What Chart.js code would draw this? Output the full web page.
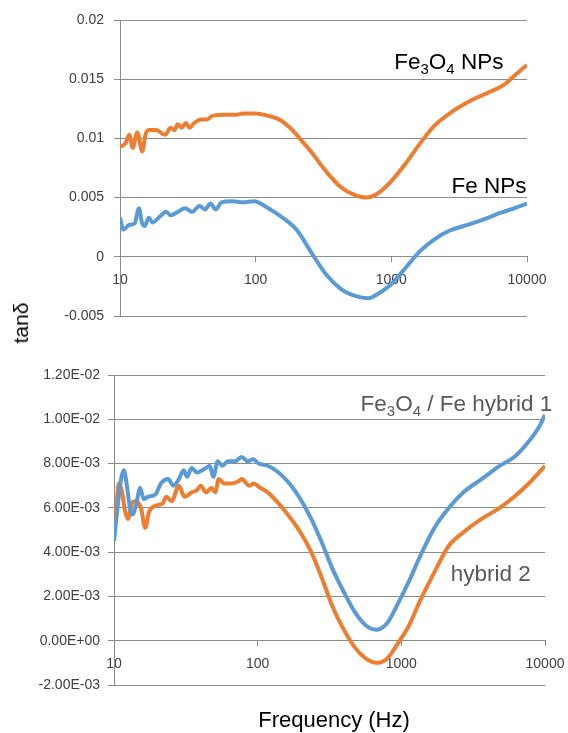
<!DOCTYPE html>
<html>
<head>
<meta charset="utf-8">
<script src="https://cdn.jsdelivr.net/npm/chart.js@4.4.1/dist/chart.umd.min.js"></script>
<style>
  body { margin: 0; background: #fff; width: 568px; height: 733px; position: relative; overflow: hidden;
         font-family: "Liberation Sans", Arial, sans-serif; }
  canvas { position: absolute; left: 0; }
  #top { top: 0; }
  #bottom { top: 340px; }
  #ylab { position: absolute; left: 21px; top: 323px; transform: translate(-50%, -50%) rotate(-90deg);
          font-size: 21px; color: #000; white-space: nowrap; }
  #xlab { position: absolute; left: 334px; top: 720px; transform: translate(-50%, -50%);
          font-size: 22px; color: #000; white-space: nowrap; }
</style>
</head>
<body>
<canvas id="top" width="568" height="340"></canvas>
<canvas id="bottom" width="600" height="393"></canvas>
<div id="ylab">tanδ</div>
<div id="xlab">Frequency (Hz)</div>
<script>
// x ticks (shared)
const xTicks = [10, 100, 1000, 10000];
const xTickLabels = ["10", "100", "1000", "10000"];

// top panel: Fe3O4 NPs / Fe NPs
const topYTicks = [-0.005, 0, 0.005, 0.01, 0.015, 0.02];
const topYLabels = ["-0.005", "0", "0.005", "0.01", "0.015", "0.02"];

const fe3o4Freq = [10, 11.0, 11.7, 12.4, 13.4, 14.6, 15.4, 16.3, 18.5, 21.5,
  23.6, 25.1, 26.7, 28.4, 30.6, 32.5, 35.2, 39.8, 43.7, 47.9,
  59.4, 71.3, 80.7, 100, 124, 149, 179, 215, 259, 331,
  423, 541, 651, 782, 1000, 1279, 1635, 2089, 2840, 3861,
  5248, 6708, 8067, 10000];
const fe3o4Tan = [0.0093, 0.0096, 0.0103, 0.0092, 0.0105, 0.0089, 0.0103, 0.0107, 0.0107, 0.0103,
  0.0109, 0.0107, 0.0112, 0.0109, 0.0113, 0.0109, 0.0113, 0.0116, 0.0116, 0.0119,
  0.0120, 0.0120, 0.0121, 0.0121, 0.0119, 0.0116, 0.0109, 0.0099, 0.0088, 0.0072,
  0.0059, 0.0052, 0.0050, 0.0053, 0.0064, 0.0079, 0.0096, 0.0111, 0.0123, 0.0132,
  0.0139, 0.0145, 0.0153, 0.0162];

const feFreq = [10, 10.6, 11.7, 12.8, 13.8, 14.5, 15.2, 16.3, 17.4, 19.7,
  21.9, 23.6, 26.7, 30.2, 34.1, 38.6, 42.3, 46.4, 50.9, 55.8,
  67.1, 80.7, 97, 124, 158, 203, 259, 331, 423, 541,
  671, 832, 1000, 1279, 1635, 2089, 2671, 3415, 4642, 6310,
  8067, 10000];
const feTan = [0.0033, 0.0023, 0.0027, 0.0028, 0.0041, 0.0029, 0.0026, 0.0033, 0.0029, 0.0034,
  0.0038, 0.0035, 0.0038, 0.0041, 0.0038, 0.0043, 0.0040, 0.0045, 0.0040, 0.0046,
  0.0047, 0.0046, 0.0047, 0.0041, 0.0033, 0.0022, 0.0003, -0.0015, -0.0027, -0.0033,
  -0.0035, -0.0030, -0.0023, -0.0009, 0.0005, 0.0015, 0.0022, 0.0026, 0.0031, 0.0037,
  0.0041, 0.0045];

// bottom panel: hybrid 1 / hybrid 2
const bottomYTicks = [-0.002, 0, 0.002, 0.004, 0.006, 0.008, 0.010, 0.012];
const bottomYLabels = ["-2.00E-03", "0.00E+00", "2.00E-03", "4.00E-03", "6.00E-03", "8.00E-03", "1.00E-02", "1.20E-02"];

const hyb1Freq = [10, 10.5, 11.2, 11.7, 12.3, 12.9, 13.5, 14.3, 15.2, 16.1,
  17.3, 19.4, 21.2, 23.8, 25.9, 28.3, 30.5, 32.3, 34.7, 37.8,
  43.7, 46.4, 49.1, 52.7, 56.8, 62.0, 69.6, 77.3, 85.3, 93.1,
  101.6, 117.5, 139.8, 166.4, 198.2, 236, 281, 334, 398, 474,
  564, 671, 799, 951, 1133, 1348, 1701, 2146, 2707, 3620,
  4841, 6107, 7703, 9171, 10000];
const hyb1Tan = [0.0045, 0.0058, 0.0073, 0.0077, 0.0070, 0.0060, 0.0057, 0.0062, 0.0069, 0.0064,
  0.0065, 0.0066, 0.0071, 0.0073, 0.0070, 0.0073, 0.0077, 0.0074, 0.0078, 0.0076,
  0.0078, 0.0079, 0.0074, 0.0081, 0.0079, 0.0081, 0.0081, 0.0083, 0.0081, 0.0082,
  0.0080, 0.0079, 0.0076, 0.0071, 0.0064, 0.0055, 0.0044, 0.0032, 0.0022, 0.0013,
  0.0007, 0.0005, 0.0008, 0.0017, 0.0027, 0.0038, 0.0051, 0.0060, 0.0067, 0.0073,
  0.0079, 0.0083, 0.0090, 0.0097, 0.0102];

const hyb2Freq = [10, 10.4, 10.8, 11.4, 11.9, 12.5, 13.3, 14.1, 15.4, 16.5,
  17.5, 19.4, 21.8, 23.1, 25.2, 28.3, 30.9, 34.7, 37.8, 40.1,
  43.7, 47.7, 50.6, 53.6, 58.5, 65.7, 73.8, 77.3, 87.8, 93.1,
  104.6, 117.5, 139.8, 166.4, 198.2, 236, 281, 334, 398, 474,
  564, 671, 799, 951, 1133, 1348, 1701, 2146, 2707, 3620,
  4841, 6107, 7703, 10000];
const hyb2Tan = [0.0048, 0.0061, 0.0071, 0.0067, 0.0059, 0.0055, 0.0062, 0.0063, 0.0060, 0.0051,
  0.0058, 0.0061, 0.0062, 0.0065, 0.0063, 0.0070, 0.0065, 0.0067, 0.0068, 0.0070,
  0.0067, 0.0069, 0.0067, 0.0073, 0.0071, 0.0071, 0.0072, 0.0073, 0.0070, 0.0071,
  0.0069, 0.0067, 0.0062, 0.0056, 0.0049, 0.0040, 0.0028, 0.0015, 0.0005, -0.0003,
  -0.0008, -0.0010, -0.0008, -0.0001, 0.0007, 0.0018, 0.0031, 0.0043, 0.0049, 0.0055,
  0.0060, 0.0065, 0.0071, 0.0079];

const ORANGE = "#ED7D31";
const BLUE = "#5B9BD5";
const GRID = "#8c8c8c";
const FONT = '"Liberation Sans", Arial, sans-serif';

Chart.defaults.font.family = FONT;
Chart.defaults.font.size = 14;
Chart.defaults.color = "#404040";

const pts = (xs, ys) => xs.map((x, i) => ({ x: x, y: ys[i] }));

// text labels with subscripts, anchored in data coords
const notesPlugin = {
  id: "notes",
  afterDatasetsDraw(chart, args, opts) {
    const { ctx, scales } = chart;
    (opts.items || []).forEach((n) => {
      let px = scales.x.getPixelForValue(n.x);
      const py = scales.y.getPixelForValue(n.y);
      ctx.save();
      ctx.fillStyle = n.color;
      ctx.textBaseline = "alphabetic";
      ctx.textAlign = "left";
      let w = 0;
      n.parts.forEach((p) => {
        ctx.font = (p[1] ? "15px " : "22.5px ") + FONT;
        w += ctx.measureText(p[0]).width;
      });
      if (n.align === "right") px -= w;
      n.parts.forEach((p) => {
        ctx.font = (p[1] ? "15px " : "22.5px ") + FONT;
        ctx.fillText(p[0], px, py + (p[1] ? 5 : 0));
        px += ctx.measureText(p[0]).width;
      });
      ctx.restore();
    });
  },
};

function makeChart(id, sets, yTicks, yLabels, axisW, labPad, padding, notes) {
  new Chart(document.getElementById(id), {
    type: "line",
    data: {
      datasets: sets.map((s) => ({
        data: s.data,
        borderColor: s.color,
        borderWidth: 4,
        pointRadius: 0,
        cubicInterpolationMode: "monotone",
        fill: false,
      })),
    },
    options: {
      responsive: false,
      animation: false,
      layout: { padding: padding },
      plugins: { legend: { display: false }, tooltip: { enabled: false }, notes: { items: notes } },
      scales: {
        x: {
          type: "logarithmic",
          position: { y: 0 },
          min: 10,
          max: 10000,
          afterBuildTicks: (sc) => { sc.ticks = xTicks.map((v) => ({ value: v })); },
          ticks: {
            autoSkip: false,
            maxRotation: 0,
            padding: 10,
            callback: (v) => xTickLabels[xTicks.indexOf(v)],
          },
          grid: { display: true, drawOnChartArea: false, drawTicks: true, tickLength: 5, color: GRID },
          border: { display: true, color: GRID },
        },
        y: {
          min: yTicks[0],
          max: yTicks[yTicks.length - 1],
          afterBuildTicks: (sc) => { sc.ticks = yTicks.map((v) => ({ value: v })); },
          afterFit: (sc) => { sc.width = axisW; },
          ticks: {
            padding: labPad,
            callback: (v) => {
              const i = yTicks.findIndex((t) => Math.abs(t - v) < 1e-9);
              return i >= 0 ? yLabels[i] : "";
            },
          },
          grid: { color: GRID, drawTicks: true, tickLength: 6 },
          border: { display: true, color: GRID },
        },
      },
    },
    plugins: [notesPlugin],
  });
}

makeChart(
  "top",
  [
    { data: pts(fe3o4Freq, fe3o4Tan), color: ORANGE },
    { data: pts(feFreq, feTan), color: BLUE },
  ],
  topYTicks, topYLabels, 120, 10,
  { left: 0, right: 41, top: 20, bottom: 24 },
  [
    { x: 1050, y: 0.0159, color: "#000", parts: [["Fe"], ["3", 1], ["O"], ["4", 1], [" NPs"]] },
    { x: 9900, y: 0.0054, color: "#000", align: "right", parts: [["Fe NPs"]] },
  ]
);

makeChart(
  "bottom",
  [
    { data: pts(hyb1Freq, hyb1Tan), color: BLUE },
    { data: pts(hyb2Freq, hyb2Tan), color: ORANGE },
  ],
  bottomYTicks, bottomYLabels, 114, 8,
  { left: 0, right: 55, top: 35, bottom: 48 },
  [
    { x: 520, y: 0.01038, color: "#595959", parts: [["Fe"], ["3", 1], ["O"], ["4", 1], [" / Fe hybrid 1"]] },
    { x: 2210, y: 0.00271, color: "#595959", parts: [["hybrid 2"]] },
  ]
);
</script>
</body>
</html>
